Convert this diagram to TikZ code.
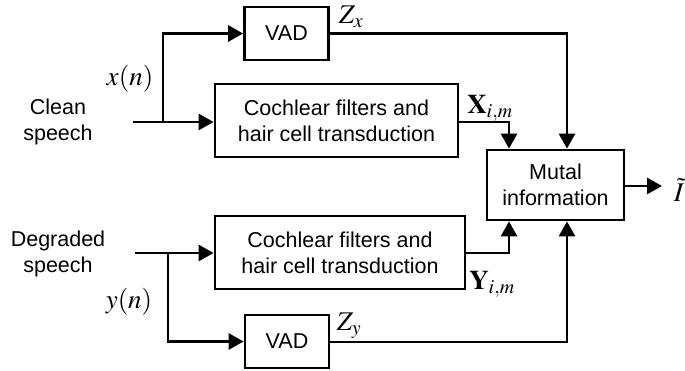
\documentclass[tikz,border=0pt]{standalone}
\usepackage{mathptmx}
\usepackage[no-math]{fontspec}
\setmainfont{Liberation Sans}
\usetikzlibrary{arrows.meta,calc}
\tikzset{
  blk/.style={draw, line width=2.8pt, inner sep=0pt, align=center, font=\fontsize{21.5}{26}\selectfont},
  txt/.style={align=center, font=\fontsize{21.5}{26}\selectfont, inner sep=0pt},
  mlab/.style={font=\fontsize{27}{32}\selectfont, inner sep=0pt},
  conn/.style={line width=2.8pt, -{Triangle[length=15pt,width=16pt]}},
  wire/.style={line width=2.8pt}
}
\begin{document}
\begin{tikzpicture}[x=1pt,y=-1pt]
\useasboundingbox (0,0) rectangle (685,371);
% blocks
\node[blk, minimum width=84pt, minimum height=53pt] (vad1) at (286.5,33.5) {VAD};
\node[blk, minimum width=243pt, minimum height=73pt] (coch1) at (336.5,120.5) {Cochlear filters and\\hair cell transduction};
\node[blk, minimum width=137pt, minimum height=70pt] (mi) at (555.5,185) {Mutal\\information};
\node[blk, minimum width=250pt, minimum height=73pt] (coch2) at (340,252.5) {Cochlear filters and\\hair cell transduction};
\node[blk, minimum width=84pt, minimum height=53pt] (vad2) at (287,341.5) {VAD};
% texts
\node[txt] (clean) at (58,122) {Clean\\speech};
\node[txt] (degr) at (58,254) {Degraded\\speech};
\node[mlab] (xn) at (130,79) {$x(n)$};
\node[mlab] (yn) at (129,302) {$y(n)$};
\node[mlab] (zx) at (351,17) {$Z_x$};
\node[mlab] (zy) at (349,326) {$Z_y$};
\node[mlab] (xim) at (490,108) {$\mathbf{X}_{i,m}$};
\node[mlab] (yim) at (492,284) {$\mathbf{Y}_{i,m}$};
\node[mlab] (it) at (679,190) {$\tilde{I}$};
% coordinates
\coordinate (cin1) at (133,122);
\coordinate (j1) at (163,122);
\coordinate (cin2) at (135,253);
\coordinate (j2) at (168,253);
\coordinate (cx) at (509,0);
\coordinate (zxc) at (567,0);
\coordinate (out) at (662,186);
% clean branch
\draw[conn] (cin1) -- (cin1 -| coch1.west);
\draw[conn] (j1) |- (vad1.west);
% degraded branch
\draw[conn] (cin2) -- (cin2 -| coch2.west);
\draw[conn] (j2) |- (vad2.west);
% to MI
\draw[conn] (vad1.east) -| (zxc |- mi.north);
\draw[conn] (coch1.east |- cin1) -| (cx |- mi.north);
\draw[conn] (coch2.east |- cin2) -| (cx |- mi.south);
\draw[conn] (vad2.east |- 0,342) -| (zxc |- mi.south);
\draw[conn] (mi.east |- out) -- (out);
\end{tikzpicture}
\end{document}
